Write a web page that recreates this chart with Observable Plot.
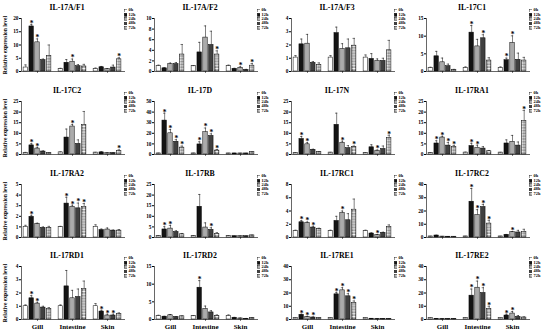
<!DOCTYPE html>
<html><head><meta charset="utf-8">
<script src="https://cdn.jsdelivr.net/npm/d3@7"></script>
<script src="https://cdn.jsdelivr.net/npm/@observablehq/plot@0.6"></script>
<style>
body{margin:0;background:#fff;}
#chart{position:relative;width:550px;height:333px;overflow:hidden;font-family:"Liberation Serif",serif;font-weight:bold;color:#000;}
.title{position:absolute;font-size:7.8px;transform:translate(-50%,-50%);white-space:nowrap;}
.panel{position:absolute;}
.panel svg{overflow:visible;}
.legend{position:absolute;font-size:4.3px;line-height:4.4px;}
.legend .row{display:flex;align-items:center;height:4.4px;white-space:nowrap;}
.legend span{line-height:4.4px;display:inline-block;height:4.4px;}
.legend svg{margin-right:1.5px;}
.ylab{position:absolute;font-size:5.6px;white-space:nowrap;transform:translate(-50%,-50%) rotate(-90deg);}
</style></head>
<body>
<svg width="0" height="0" style="position:absolute">
<defs>
<pattern id="hatch" width="2.2" height="2.2" patternUnits="userSpaceOnUse" patternTransform="rotate(45)">
<rect width="2.2" height="2.2" fill="#fff"/>
<rect width="1.1" height="1.1" fill="#6a6a6a"/>
<rect x="1.1" y="1.1" width="1.1" height="1.1" fill="#6a6a6a"/>
</pattern>
</defs>
</svg>
<div id="chart"></div>
<script>
const tissues = ["Gill", "Intestine", "Skin"];
const times = ["0h", "12h", "24h", "48h", "72h"];
const genes = ["IL-17A/F1","IL-17A/F2","IL-17A/F3","IL-17C1","IL-17C2","IL-17D","IL-17N","IL-17RA1",
  "IL-17RA2","IL-17RB","IL-17RC1","IL-17RC2","IL-17RD1","IL-17RD2","IL-17RE1","IL-17RE2"];
const yMax = [20,10,4,15,25,50,25,25,5,25,8,40,4,15,40,40];
const yStep = [5,2,1,5,5,10,5,5,1,5,2,10,1,5,10,10];

// means[gene][tissue][time]
const means = [
  [[1.5,17,11,4.3,5.8],[1.0,3.3,3.7,2.0,1.9],[1.0,1.6,0.9,1.5,4.6]],
  [[1.0,0.6,1.4,1.4,3.2],[1.0,3.6,6.4,5.0,3.2],[1.0,0.5,0.7,0.3,1.1]],
  [[1.05,2.05,2.1,0.65,0.5],[1.05,2.9,1.7,1.75,1.95],[1.05,0.95,0.8,0.8,1.6]],
  [[1.0,4.3,2.6,1.5,0.5],[1.0,11,7.1,9.4,3.1],[1.0,3.2,8.1,3.3,3.1]],
  [[0.8,4.3,2.8,1.4,0.7],[1.0,8.0,13.2,5.0,13.8],[0.9,1.0,0.7,0.7,1.6]],
  [[1,32,20,12,6.5],[1,9.5,21,17.5,3.7],[1,1,1,1,2.2]],
  [[0.8,7.3,4.8,2.2,1.2],[0.9,14,5.5,3.0,3.6],[0.8,3.4,1.8,2.6,7.9]],
  [[0.8,5.2,8,4.2,3.5],[0.9,4,3.2,2.8,1.5],[0.9,5.2,6,4.2,15.8]],
  [[1.0,1.95,1.3,0.9,0.9],[1.0,3.2,2.9,2.75,2.9],[1.0,0.7,0.75,0.65,0.65]],
  [[0.8,3.8,4.2,2.6,1.5],[0.8,14.5,4.7,3.6,1.6],[0.8,0.6,0.6,0.6,1.0]],
  [[1.0,2.3,2.2,1.5,1.3],[1.0,2.5,3.7,2.6,4.2],[1.0,0.6,0.35,0.7,1.6]],
  [[0.8,1.5,0.7,0.6,0.6],[0.8,27,17,23,10.5],[0.8,2,4,3.8,4.2]],
  [[1.0,1.6,1.2,0.9,0.8],[1.0,2.5,1.6,1.7,2.3],[1.0,0.6,0.3,0.3,0.4]],
  [[1,0.8,1.2,0.7,0.9],[1,9,3,2,1],[1,0.5,0.3,0.2,0.4]],
  [[1,3.5,2,1.5,1],[1,19,22,17.5,12.5],[1,0.6,0.5,0.4,0.5]],
  [[1,0.5,0.4,0.3,0.5],[1,18,24,20,8],[1,3,4.5,2,1.5]]
];
const errors = [
  [[1.0,0.8,1.3,0.4,4.2],[0.2,1.2,1.0,0.6,0.8],[0.3,0.3,0.2,0.9,0.6]],
  [[0.2,0.1,0.2,0.3,1.9],[0.1,1.9,2.2,2.6,0.7],[0.2,0.1,0.2,0.1,0.4]],
  [[0.15,0.4,0.7,0.1,0.15],[0.15,0.45,0.4,0.7,0.55],[0.2,0.4,0.15,0.2,0.75]],
  [[0.2,1.4,1.2,0.6,0.1],[0.3,2,2,1,0.8],[0.3,0.6,2,1.9,0.9]],
  [[0.2,0.8,0.6,0.3,0.1],[0.2,4,1,1.9,6.5],[0.1,0.3,0.1,0.1,0.6]],
  [[0.2,7,3.5,2,1.5],[0.2,2.5,4,2,1],[0.1,0.1,0.1,0.1,0.3]],
  [[0.1,1.2,0.8,0.3,0.2],[0.1,5.5,0.8,1.2,0.4],[0.1,1.2,0.3,1.4,1.2]],
  [[0.1,1.3,0.6,1.5,0.8],[0.2,1.3,1.2,0.9,0.4],[0.1,1.7,3,1.7,5]],
  [[0.15,0.15,0.05,0.1,0.15],[0.05,0.6,0.15,0.5,0.3],[0.2,0.1,0.15,0.05,0.1]],
  [[0.1,1.3,1.5,0.6,0.4],[0.1,5.8,2.2,1,0.7],[0.1,0.1,0.1,0.1,0.1]],
  [[0.1,0.25,0.15,0.2,0.1],[0.1,0.7,0.3,1.0,1.6],[0.1,0.1,0.1,0.1,0.3]],
  [[0.1,0.2,0.1,0.1,0.1],[0.1,10,4,2,2.5],[0.1,0.3,0.5,1.6,2]],
  [[0.1,0.2,0.1,0.1,0.1],[0.1,1.2,0.6,0.6,0.6],[0.2,0.1,0.1,0.1,0.1]],
  [[0.2,0.1,0.2,0.1,0.1],[0.1,2,0.8,0.5,0.3],[0.3,0.1,0.1,0.1,0.1]],
  [[0.2,0.5,0.4,0.4,0.2],[0.2,1.5,2,2,1.5],[0.1,0.1,0.1,0.1,0.1]],
  [[0.2,0.1,0.1,0.1,0.1],[0.2,5,5,4,2],[0.1,1,1.5,1,0.5]]
];
const stars = [
  [[0,1,1,0,0],[0,0,1,0,0],[0,0,0,0,1]],
  [[0,0,0,0,0],[0,0,0,0,1],[0,0,1,0,1]],
  [[0,0,0,0,0],[0,0,0,0,0],[0,0,0,0,0]],
  [[0,0,0,0,0],[0,1,0,1,0],[0,1,1,0,0]],
  [[0,1,1,0,0],[0,0,1,0,0],[0,0,0,0,1]],
  [[0,1,1,1,1],[0,1,1,1,1],[0,0,0,0,0]],
  [[0,1,1,0,0],[0,0,1,0,1],[0,0,1,0,1]],
  [[0,1,1,1,1],[0,1,1,0,0],[0,0,0,0,1]],
  [[0,1,0,0,0],[0,1,1,1,1],[0,0,0,0,0]],
  [[0,1,1,0,0],[0,0,0,1,0],[0,0,0,0,0]],
  [[0,1,1,1,0],[0,0,1,0,0],[0,0,1,0,0]],
  [[0,0,0,0,0],[0,1,1,1,1],[0,0,1,0,0]],
  [[0,1,1,0,0],[0,0,0,0,0],[0,1,1,1,0]],
  [[0,0,0,0,0],[0,1,0,0,0],[0,0,0,0,0]],
  [[0,1,1,1,0],[0,1,1,1,1],[0,0,0,0,0]],
  [[0,0,0,0,0],[0,1,1,1,1],[0,1,1,0,0]]
];
const fills = ["#ffffff", "#141414", "#ababab", "#404040", "url(#hatch)"];

const colLeft = [0, 133, 270, 405];
const rowTop = [0, 83, 166, 248];
const chart = document.getElementById("chart");
const FONT = '"Liberation Serif", serif';

genes.forEach((gene, gi) => {
  const col = gi % 4, row = Math.floor(gi / 4);
  const left = colLeft[col], top = rowTop[row];
  const bottomRow = row === 3;
  const rows = [];
  tissues.forEach((tissue, ti) => times.forEach((time, k) => {
    const p = ti * 6 + k;
    const v = means[gi][ti][k], e = errors[gi][ti][k];
    rows.push({tissue, time, x1: p, x2: p + 1, xc: p + 0.5, cl: p + 0.3, cr: p + 0.7,
      v, top: v + e, sig: stars[gi][ti][k] === 1});
  }));
  const tickVals = d3.range(0, yMax[gi] + yStep[gi] / 2, yStep[gi]);
  const centers = tissues.map((t, ti) => ti * 6 + 2.5);
  const plot = Plot.plot({
    width: 127, height: 83,
    marginLeft: 21, marginRight: 2, marginTop: 18, marginBottom: 12,
    x: {domain: [-0.24, 17.58], axis: null},
    y: {domain: [0, yMax[gi]], axis: "left", ticks: tickVals, tickSize: 2, tickPadding: 1,
        tickFormat: d => String(d), label: null},
    color: {domain: times, range: fills},
    style: {fontFamily: FONT, fontWeight: "bold", fontSize: "5.3px", background: "transparent", overflow: "visible"},
    marks: [
      Plot.rect(rows, {x1: "x1", x2: "x2", y1: 0, y2: "v", fill: "time", stroke: "#000", strokeWidth: 0.5, insetLeft: 0.7, insetRight: 0.7}),
      Plot.ruleX(rows, {x: "xc", y1: "v", y2: "top", stroke: "#000", strokeWidth: 0.5}),
      Plot.ruleY(rows, {x1: "cl", x2: "cr", y: "top", stroke: "#000", strokeWidth: 0.5}),
      Plot.text(rows.filter(d => d.sig), {x: "xc", y: "top", text: () => "*", fontSize: 7.5, lineAnchor: "bottom", dy: 1.4, fill: "#000"}),
      Plot.ruleX([-0.24], {stroke: "#000", strokeWidth: 0.6}),
      Plot.ruleY([0], {stroke: "#000", strokeWidth: 0.6}),
      Plot.axisX({ticks: centers, tickSize: 2, tickPadding: 3, fontSize: 7,
        tickFormat: d => bottomRow ? tissues[Math.round((d - 2.5) / 6)] : "", strokeWidth: 0.5})
    ]
  });
  const holder = document.createElement("div");
  holder.className = "panel";
  holder.style.left = left + "px";
  holder.style.top = top + "px";
  holder.appendChild(plot);
  chart.appendChild(holder);

  const title = document.createElement("div");
  title.className = "title";
  title.textContent = gene;
  title.style.left = (left + 67) + "px";
  title.style.top = (top + 6.5) + "px";
  chart.appendChild(title);

  const leg = document.createElement("div");
  leg.className = "legend";
  leg.style.left = (left + 123.5) + "px";
  leg.style.top = (top + 8.3) + "px";
  times.forEach((t, k) => {
    const r = document.createElement("div");
    r.className = "row";
    r.innerHTML = `<svg width="3.6" height="3.6" viewBox="0 0 3.6 3.6"><rect x="0.25" y="0.25" width="3.1" height="3.1" fill="${fills[k]}" stroke="#000" stroke-width="0.4"/></svg><span>${t}</span>`;
    leg.appendChild(r);
  });
  chart.appendChild(leg);

  if (col === 0) {
    const yl = document.createElement("div");
    yl.className = "ylab";
    yl.textContent = "Relative expression level";
    yl.style.left = "5px";
    yl.style.top = (top + 44.5) + "px";
    chart.appendChild(yl);
  }
});
</script>
</body></html>
